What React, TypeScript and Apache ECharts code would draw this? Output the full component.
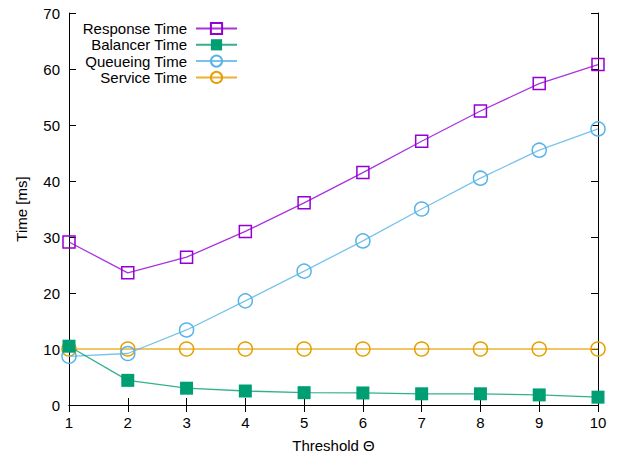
import React, { useEffect, useRef } from "react";
import * as echarts from "echarts";

const thresholds = [1, 2, 3, 4, 5, 6, 7, 8, 9, 10];
const responseTime = [29.1, 23.6, 26.4, 31.0, 36.1, 41.5, 47.1, 52.5, 57.4, 60.8];
const balancerTime = [10.5, 4.4, 3.0, 2.5, 2.2, 2.15, 2.0, 2.0, 1.8, 1.4];
const queueingTime = [8.7, 9.2, 13.4, 18.6, 23.9, 29.3, 35.0, 40.5, 45.5, 49.3];
const serviceTime = [10, 10, 10, 10, 10, 10, 10, 10, 10, 10];
const seriesNames = ["Response Time", "Balancer Time", "Queueing Time", "Service Time"];
const colors = ["#9400d3", "#009e73", "#56b4e9", "#e69f00"];

const FONT = "Liberation Sans";

export default function App() {
  const ref = useRef<HTMLDivElement>(null);
  useEffect(() => {
    if (!ref.current) return;
    const chart = echarts.init(ref.current, null, { renderer: "svg" });
    const mk = (vals: number[]) => thresholds.map((t, i) => [t, vals[i]]);
    const line = (i: number, vals: number[], symbol: string, size: number, filled: boolean) => ({
      name: seriesNames[i],
      type: "line",
      data: mk(vals),
      symbol,
      symbolSize: size,
      showAllSymbol: true,
      color: colors[i],
      lineStyle: { color: colors[i], width: 1.3, opacity: 0.8 },
      itemStyle: filled
        ? { color: colors[i], borderColor: colors[i], borderWidth: 0 }
        : { color: "transparent", borderColor: colors[i], borderWidth: 1.5 },
      z: 5 - i,
    });
    const axisCommon = {
      axisLine: { show: true, lineStyle: { color: "#000", width: 1 } },
      axisTick: { show: true, inside: true, length: 7, lineStyle: { color: "#000" } },
      splitLine: { show: false },
    };
    chart.setOption({
      animation: false,
      backgroundColor: "#fff",
      textStyle: { fontFamily: FONT },
      grid: { left: 69, right: 20, top: 13, bottom: 51, containLabel: false },
      legend: {
        orient: "vertical",
        left: 67,
        top: 21,
        padding: 0,
        align: "right",
        itemWidth: 41,
        itemHeight: 14,
        itemGap: 1.3,
        data: seriesNames,
        textStyle: {
          fontFamily: FONT,
          fontSize: 15,
          lineHeight: 14,
          color: "#000",
          width: 120,
          align: "right",
          padding: [0, 4, 0, 0],
        },
      },
      xAxis: [
        {
          type: "value",
          min: 1,
          max: 10,
          interval: 1,
          name: "Threshold Θ",
          nameLocation: "middle",
          nameGap: 33,
          nameTextStyle: { fontFamily: FONT, fontSize: 15, color: "#000" },
          axisLabel: { fontFamily: FONT, fontSize: 15, color: "#000", margin: 10 },
          ...axisCommon,
        },
        {
          type: "value",
          position: "top",
          min: 1,
          max: 10,
          interval: 1,
          axisLabel: { show: false },
          ...axisCommon,
        },
      ],
      yAxis: [
        {
          type: "value",
          min: 0,
          max: 70,
          interval: 10,
          name: "Time [ms]",
          nameLocation: "middle",
          nameGap: 40,
          nameTextStyle: { fontFamily: FONT, fontSize: 15, color: "#000" },
          axisLabel: { fontFamily: FONT, fontSize: 15, color: "#000", margin: 9 },
          ...axisCommon,
        },
        {
          type: "value",
          position: "right",
          min: 0,
          max: 70,
          interval: 10,
          axisLabel: { show: false },
          ...axisCommon,
        },
      ],
      series: [
        line(0, responseTime, "rect", 12, false),
        line(1, balancerTime, "rect", 13, true),
        line(2, queueingTime, "circle", 14, false),
        line(3, serviceTime, "circle", 14, false),
      ],
    });
    return () => chart.dispose();
  }, []);
  return (
    <div
      ref={ref}
      style={{ position: "fixed", left: 0, top: 0, width: 618, height: 458, background: "#fff" }}
    />
  );
}
